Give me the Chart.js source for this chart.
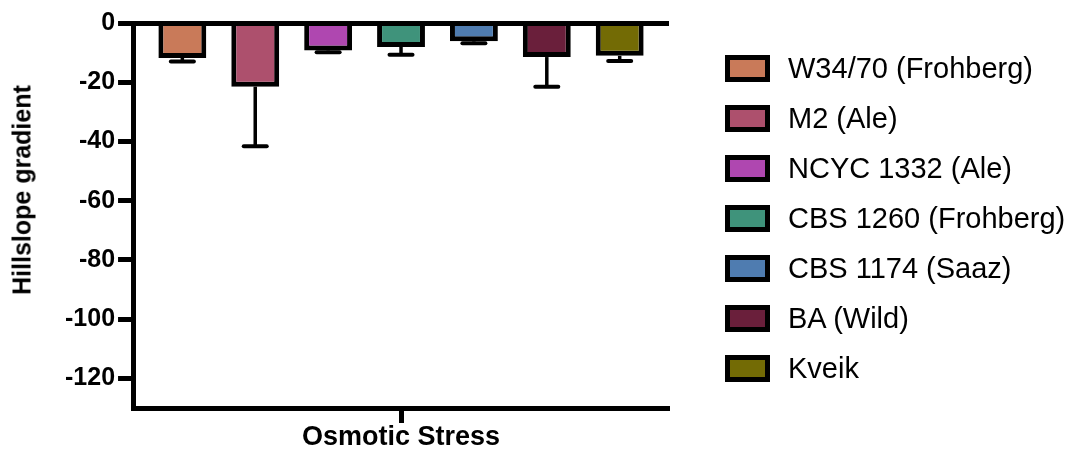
<!DOCTYPE html>
<html>
<head>
<meta charset="utf-8">
<script src="https://cdn.jsdelivr.net/npm/chart.js@4.4.1/dist/chart.umd.min.js"></script>
<style>
  html, body { margin: 0; padding: 0; background: #fff; }
  #wrap { position: relative; width: 1073px; height: 450px; font-family: 'Liberation Sans', Arial, Helvetica, sans-serif; color: #000; }
  #chart { position: absolute; left: 0; top: 0; }
  #ytitle { position: absolute; left: 22px; top: 190px; transform: translate(-50%, -50%) rotate(-90deg);
            font-weight: bold; font-size: 25px; line-height: 1; white-space: nowrap; }
  #legend { position: absolute; left: 725px; top: 55px; }
  .item { display: flex; align-items: center; height: 27px; margin-bottom: 23px; }
  .swatch { box-sizing: border-box; width: 45px; height: 27px; border: 5px solid #000; }
  .label { margin-left: 18px; font-size: 29px; line-height: 1; white-space: nowrap; }
</style>
</head>
<body>
<div id="wrap">
  <canvas id="chart" width="1073" height="450"></canvas>
  <div id="ytitle">Hillslope gradient</div>
  <div id="legend"></div>
</div>
<script>
// Condition on the x axis
const categories = ['Osmotic Stress'];

// Yeast strains, one bar each
const strains = ['W34/70 (Frohberg)', 'M2 (Ale)', 'NCYC 1332 (Ale)', 'CBS 1260 (Frohberg)',
                 'CBS 1174 (Saaz)', 'BA (Wild)', 'Kveik'];

// Mean hillslope gradient and its spread (drawn downward from the mean)
const meanGradient = [-11.8, -21.5, -9.3, -8.1, -6.2, -11.5, -11.1];
const sdGradient   = [1.2, 20.1, 0.6, 2.6, 0.6, 10.0, 1.7];

// Value axis
const yTicks = [0, -20, -40, -60, -80, -100, -120];
const yMin = -130;
const yMax = 0;

const strainColors = ['#C97A59', '#AD506D', '#AF47B0', '#3F937B', '#4F7CB0', '#6A1F3B', '#736B05'];

const FONT = "'Liberation Sans', Arial, Helvetica, sans-serif";

// Downward error bars with a flat cap
const errorBars = {
  id: 'errorBars',
  afterDatasetsDraw(chart) {
    const { ctx } = chart;
    const yScale = chart.scales.y;
    ctx.save();
    ctx.strokeStyle = '#000';
    chart.data.datasets.forEach((ds, i) => {
      const meta = chart.getDatasetMeta(i);
      meta.data.forEach((bar, j) => {
        const yEnd = yScale.getPixelForValue(ds.data[j] - ds.sd[j]);
        ctx.lineWidth = 3.5;
        ctx.lineCap = 'butt';
        ctx.beginPath();
        ctx.moveTo(bar.x, bar.y);
        ctx.lineTo(bar.x, yEnd);
        ctx.stroke();
        ctx.lineWidth = 4;
        ctx.lineCap = 'round';
        ctx.beginPath();
        ctx.moveTo(bar.x - 11.5, yEnd);
        ctx.lineTo(bar.x + 11.5, yEnd);
        ctx.stroke();
      });
    });
    ctx.restore();
  }
};

const datasets = strains.map((name, i) => ({
  label: name,
  data: [meanGradient[i]],
  sd: [sdGradient[i]],
  backgroundColor: strainColors[i],
  borderColor: '#000',
  borderWidth: 5,
  borderSkipped: 'start',
  categoryPercentage: 0.952,
  barPercentage: 0.657
}));

new Chart(document.getElementById('chart'), {
  type: 'bar',
  data: { labels: categories, datasets },
  plugins: [errorBars],
  options: {
    responsive: false,
    animation: false,
    devicePixelRatio: 1,
    layout: { padding: { left: 62, right: 404, top: 23, bottom: -2 } },
    plugins: { legend: { display: false }, tooltip: { enabled: false } },
    scales: {
      x: {
        grid: { display: true, drawOnChartArea: false, offset: false,
                tickLength: 15, tickWidth: 5, tickColor: '#000' },
        border: { display: true, color: '#000', width: 5 },
        ticks: { color: '#000', padding: 1,
                 font: { family: FONT, size: 27, weight: 'bold', lineHeight: 1 } }
      },
      y: {
        min: yMin,
        max: yMax,
        afterBuildTicks: (scale) => { scale.ticks = yTicks.map(v => ({ value: v })); },
        grid: {
          z: 1,
          color: (c) => (c.tick && c.tick.value === 0 ? '#000' : 'rgba(0,0,0,0)'),
          lineWidth: 5,
          tickLength: 15,
          tickWidth: 5,
          tickColor: '#000'
        },
        border: { display: true, color: '#000', width: 5, z: 2 },
        ticks: { color: '#000', padding: 3,
                 font: { family: FONT, size: 25, weight: 'bold' } }
      }
    }
  }
});

// Legend rows, one per strain
const legend = document.getElementById('legend');
strains.forEach((name, i) => {
  const row = document.createElement('div');
  row.className = 'item';
  const sw = document.createElement('span');
  sw.className = 'swatch';
  sw.style.background = strainColors[i];
  const lab = document.createElement('span');
  lab.className = 'label';
  lab.textContent = name;
  row.appendChild(sw);
  row.appendChild(lab);
  legend.appendChild(row);
});
</script>
</body>
</html>
